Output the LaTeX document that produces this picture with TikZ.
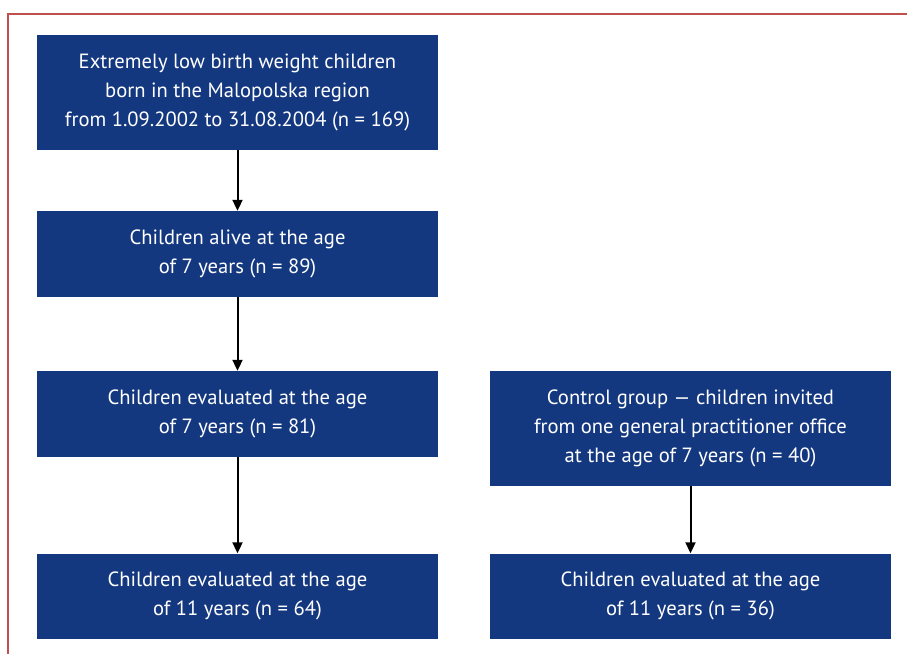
\documentclass[tikz,border=0pt]{standalone}
\usepackage{fontspec}
\setmainfont{PT Sans}
\usetikzlibrary{arrows.meta}
\definecolor{boxblue}{RGB}{20,56,127}
\definecolor{frame}{RGB}{192,80,77}
\begin{document}
\begin{tikzpicture}[x=1pt,y=-1pt,
  bluebox/.style={fill=boxblue,draw=none,text=white,align=center,inner sep=0pt,
    font=\fontsize{20.6}{29}\selectfont},
  conn/.style={draw=black,line width=2pt,-{Triangle[width=10pt,length=11pt]}}]
\useasboundingbox (0,0) rectangle (907,654);
\draw[frame,line width=1.4pt] (8,654) -- (8,14) -- (907,14);
\node[bluebox,minimum width=401pt,minimum height=115pt] (a) at (237.5,92.5)
  {Extremely low birth weight children\\born in the Malopolska region\\from 1.09.2002 to 31.08.2004 (n = 169)};
\node[bluebox,minimum width=401pt,minimum height=86pt] (b) at (237.5,254)
  {Children alive at the age\\of 7 years (n = 89)};
\node[bluebox,minimum width=401pt,minimum height=86pt] (c) at (237.5,414)
  {Children evaluated at the age\\of 7 years (n = 81)};
\node[bluebox,minimum width=401pt,minimum height=85pt] (d) at (237.5,596)
  {Children evaluated at the age\\of 11 years (n = 64)};
\node[bluebox,minimum width=401pt,minimum height=115pt] (e) at (690.5,428.5)
  {Control group — children invited\\from one general practitioner office\\at the age of 7 years (n = 40)};
\node[bluebox,minimum width=401pt,minimum height=85pt] (f) at (690.5,596)
  {Children evaluated at the age\\of 11 years (n = 36)};
\draw[conn] (a) -- (b);
\draw[conn] (b) -- (c);
\draw[conn] (c) -- (d);
\draw[conn] (e) -- (f);
\end{tikzpicture}
\end{document}
